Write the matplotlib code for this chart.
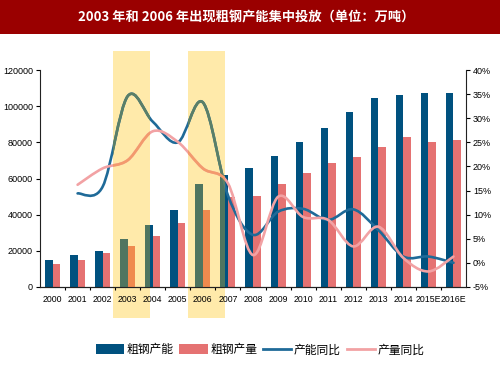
import numpy as np
import matplotlib
matplotlib.use('Agg')
import matplotlib.pyplot as plt
from matplotlib.path import Path
from matplotlib.patches import PathPatch, Rectangle
from matplotlib.lines import Line2D
from matplotlib.transforms import blended_transform_factory

plt.rcParams['font.family'] = ['Liberation Sans Narrow', 'Liberation Sans', 'DejaVu Sans']
CJK = ['Noto Sans CJK SC', 'DejaVu Sans']

# 数据
years = ['2000', '2001', '2002', '2003', '2004', '2005', '2006', '2007', '2008',
         '2009', '2010', '2011', '2012', '2013', '2014', '2015E', '2016E']
capacity = [15100, 17500, 20100, 26500, 34300, 42600, 56800, 61700, 66000,
            72600, 80400, 87700, 97000, 104300, 106200, 107100, 107100]
output = [12700, 15100, 18600, 22700, 28400, 35200, 42600, 49600, 50300,
          57000, 62900, 68400, 72100, 77600, 82800, 80200, 81300]
# 同比 (%)，从 2001 年开始
cap_yoy = [14.4, 15.8, 34.6, 29.3, 25.0, 33.3, 14.0, 5.8, 10.6, 11.2,
           8.9, 11.1, 6.8, 1.3, 1.3, 0.0]
out_yoy = [16.2, 19.6, 21.3, 27.3, 25.1, 19.6, 16.5, 1.6, 13.7, 9.5,
           8.9, 3.4, 7.5, 1.0, -1.8, 1.3]
highlight = ['2003', '2006']
labels = ['粗钢产能', '粗钢产量', '产能同比', '产量同比']

c_cap = '#00517f'
c_out = '#e57272'
c_cap_hl = '#4f7560'
c_out_hl = '#ef8a4e'
c_capl = '#1f6a98'
c_outl = '#f2a2a4'
c_capl_hl = '#5b7f66'
c_outl_hl = '#f39a6c'
band_color = '#ffeaaa'


def smooth_path(xs, ys):
    # Excel 风格平滑曲线 (贝塞尔)
    pts = np.column_stack([xs, ys]).astype(float)
    n = len(pts)
    verts = [pts[0]]
    codes = [Path.MOVETO]
    for i in range(n - 1):
        p0 = pts[max(i - 1, 0)]
        p1 = pts[i]
        p2 = pts[i + 1]
        p3 = pts[min(i + 2, n - 1)]
        verts += [p1 + (p2 - p0) / 6, p2 - (p3 - p1) / 6, p2]
        codes += [Path.CURVE4] * 3
    return Path(verts, codes)


fig = plt.figure(figsize=(5, 3.75), dpi=100)

# 标题栏
fig.patches.append(Rectangle((0, 0.909), 1, 0.091, transform=fig.transFigure,
                             facecolor='#9a0000', edgecolor='none', zorder=0))
fig.text(0.492, 0.954, '2003 年和 2006 年出现粗钢产能集中投放（单位：万吨）',
         color='white', fontsize=9.5, fontweight='bold', family=CJK,
         ha='center', va='center')

ax = fig.add_axes([0.08, 0.235, 0.852, 0.578])
ax.set_facecolor('none')
ax2 = ax.twinx()

x = np.arange(len(years))
w = 0.3

# 黄色高亮区域
band_tr = blended_transform_factory(ax.transData, fig.transFigure)
bands = []
for yr in highlight:
    i = years.index(yr)
    r = Rectangle((i - 0.6, 0.152), 1.48, 0.712, transform=band_tr,
                  facecolor=band_color, edgecolor='none', clip_on=False, zorder=0)
    ax.add_patch(r)
    bands.append(i)

b1 = ax.bar(x - w / 2, capacity, w, color=c_cap, zorder=2)
b2 = ax.bar(x + w / 2, output, w, color=c_out, zorder=2)

# 高亮区域内的颜色变化
for i in bands:
    clip = Rectangle((i - 0.6, 0), 1.48, 1,
                     transform=blended_transform_factory(ax.transData, ax.transAxes))
    for bar in ax.bar(x - w / 2, capacity, w, color=c_cap_hl, zorder=3):
        bar.set_clip_path(clip)
    for bar in ax.bar(x + w / 2, output, w, color=c_out_hl, zorder=3):
        bar.set_clip_path(clip)

ax.set_xlim(-0.5, len(years) - 0.5)
ax.set_ylim(0, 120000)
ax.set_yticks(np.arange(0, 120001, 20000))
ax.set_xticks(x)
ax.set_xticklabels(years)
ax.set_xticks(np.arange(0.5, len(years) - 1, 1), minor=True)
ax.tick_params(axis='x', which='major', length=0, pad=6, labelsize=6.3)
ax.tick_params(axis='x', which='minor', length=2, direction='out', width=0.8)
ax.tick_params(axis='y', length=3, width=0.8, labelsize=6.5, pad=2)
for s in ['top', 'right']:
    ax.spines[s].set_visible(False)

# 同比曲线
xl = x[1:]
for vals, col, col_hl in [(cap_yoy, c_capl, c_capl_hl), (out_yoy, c_outl, c_outl_hl)]:
    path = smooth_path(xl, vals)
    ax2.add_patch(PathPatch(path, fill=False, edgecolor=col, lw=1.9,
                            capstyle='round', joinstyle='round', zorder=4))
    for i in bands:
        clip = Rectangle((i - 0.6, 0), 1.48, 1,
                         transform=blended_transform_factory(ax2.transData, ax2.transAxes))
        pp = PathPatch(path, fill=False, edgecolor=col_hl, lw=1.9,
                       capstyle='round', joinstyle='round', zorder=5)
        ax2.add_patch(pp)
        pp.set_clip_path(clip)

ax2.set_ylim(-5, 40)
ax2.set_yticks(np.arange(-5, 41, 5))
ax2.set_yticklabels(['%d%%' % v for v in range(-5, 41, 5)])
ax2.tick_params(axis='y', length=3, width=0.8, labelsize=6.5, pad=2)
ax2.spines['top'].set_visible(False)
ax2.spines['left'].set_visible(False)
for a in (ax, ax2):
    for s in a.spines.values():
        s.set_color('#222222')
        s.set_linewidth(0.8)

handles = [b1, b2,
           Line2D([], [], color=c_capl, lw=2),
           Line2D([], [], color=c_outl, lw=2)]
fig.legend(handles, labels, loc='center', bbox_to_anchor=(0.52, 0.067), ncol=4,
           frameon=False, prop={'family': CJK, 'size': 8.5}, handlelength=2.4,
           handleheight=0.9, handletextpad=0.2, columnspacing=0.5)

fig.savefig('out.png', dpi=100)
